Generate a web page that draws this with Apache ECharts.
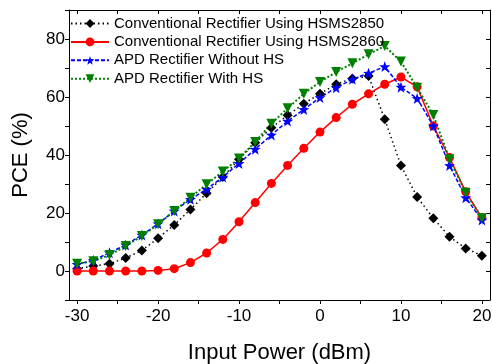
<!DOCTYPE html>
<html>
<head>
<meta charset="utf-8">
<script src="https://cdn.jsdelivr.net/npm/echarts@6/dist/echarts.min.js"></script>
<style>html,body{margin:0;padding:0;background:#fff;}#c{width:492px;height:364px;}</style>
</head>
<body>
<div id="c"></div>
<script>
const inputPower = [-30,-28,-26,-24,-22,-20,-18,-16,-14,-12,-10,-8,-6,-4,-2,0,2,4,6,8,10,12,14,16,18,20];
const hsms2850 = [0.8,1.7,2.5,4.5,7.1,11.3,15.9,21.2,26.8,32.4,38.5,44.2,49.4,53.7,57.7,61.1,64.4,66.4,67.2,52.3,36.4,25.5,18.2,11.8,7.8,5.3];
const hsms2860 = [0,0,0,0,0,0.2,0.8,2.9,6.2,10.9,17.0,23.6,30.2,36.4,42.3,47.9,52.9,57.5,61.1,64.4,66.9,63.5,50.0,39.1,27.3,18.4];
const apdNoHS = [2.3,3.7,6.3,9.0,12.4,16.3,20.7,24.7,28.2,32.4,37.1,42.0,46.9,51.7,55.7,59.8,63.2,66.1,68.2,70.5,63.4,59.5,50.0,36.4,25.3,17.6];
const apdHS = [2.5,3.4,5.5,8.6,12.1,16.1,20.7,25.3,29.9,34.3,38.8,44.5,50.8,56.1,61.1,65.2,68.6,71.6,74.7,77.6,72.2,63.2,53.8,38.5,27.0,18.2];
const seriesNames = ['Conventional Rectifier Using HSMS2850','Conventional Rectifier Using HSMS2860','APD Rectifier Without HS','APD Rectifier With HS'];
const xLabelTicks = [-30,-20,-10,0,10,20];
const xMinorTicks = [-30,-25,-20,-15,-10,-5,0,5,10,15,20];

const FONT = 'Liberation Sans, Arial, sans-serif';
const pair = arr => arr.map((v,i)=>[inputPower[i], v]);
const chart = echarts.init(document.getElementById('c'));
chart.setOption({
  animation:false,
  backgroundColor:'#fff',
  grid:{left:69, right:2, top:10, bottom:64, containLabel:false, outerBoundsMode:'none'},
  legend:{
    orient:'vertical', left:70, top:16, padding:0, itemWidth:38, itemHeight:11, itemGap:3.4,
    textStyle:{fontFamily:FONT, fontSize:15, color:'#000'},
    data:seriesNames
  },
  xAxis:[{
    type:'value', min:-31, max:21, position:'bottom',
    name:'Input Power (dBm)', nameLocation:'middle', nameGap:42,
    nameTextStyle:{fontFamily:FONT, fontSize:22, color:'#000'},
    axisLine:{show:true, onZero:false, lineStyle:{color:'#000', width:1}},
    axisTick:{show:true, inside:false, length:4, customValues:xMinorTicks, lineStyle:{color:'#000'}},
    axisLabel:{customValues:xLabelTicks, fontFamily:FONT, fontSize:17, color:'#000', margin:8},
    splitLine:{show:false}
  },{
    type:'value', min:-31, max:21, position:'top',
    axisLine:{show:true, onZero:false, lineStyle:{color:'#000', width:1}},
    axisTick:{show:true, inside:true, length:4, customValues:xMinorTicks, lineStyle:{color:'#000'}},
    axisLabel:{show:false}, splitLine:{show:false}
  }],
  yAxis:[{
    type:'value', min:-10, max:90, interval:10, position:'left',
    name:'PCE (%)', nameLocation:'middle', nameGap:37,
    nameTextStyle:{fontFamily:FONT, fontSize:22, color:'#000'},
    axisLine:{show:true, onZero:false, lineStyle:{color:'#000', width:1}},
    axisTick:{show:true, inside:false, length:4, lineStyle:{color:'#000'}},
    axisLabel:{fontFamily:FONT, fontSize:17, color:'#000', margin:4,
      formatter:v => (v % 20 === 0 && v >= 0 && v <= 80) ? String(v) : ''},
    splitLine:{show:false}
  },{
    type:'value', min:-10, max:90, interval:10, position:'right',
    axisLine:{show:true, onZero:false, lineStyle:{color:'#000', width:1}},
    axisTick:{show:true, inside:true, length:4, lineStyle:{color:'#000'}},
    axisLabel:{show:false}, splitLine:{show:false}
  }],
  series:[
    {name:seriesNames[0], type:'line', data:pair(hsms2850), symbol:'diamond', symbolSize:10,
     itemStyle:{color:'#000'}, lineStyle:{color:'#000', width:1.5, type:[1.5,3]}},
    {name:seriesNames[1], type:'line', data:pair(hsms2860), symbol:'circle', symbolSize:9,
     itemStyle:{color:'#ff0000'}, lineStyle:{color:'#ff0000', width:1.5, type:'solid'}},
    {name:seriesNames[2], type:'line', data:pair(apdNoHS), symbol:'path://M0,-10 L2.35,-3.24 L9.51,-3.09 L3.8,1.24 L5.88,8.09 L0,4 L-5.88,8.09 L-3.8,1.24 L-9.51,-3.09 L-2.35,-3.24 Z', symbolSize:11,
     itemStyle:{color:'#0000ff'}, lineStyle:{color:'#0000ff', width:1.5, type:[4,2]}},
    {name:seriesNames[3], type:'line', data:pair(apdHS), symbol:'triangle', symbolRotate:180, symbolSize:10,
     itemStyle:{color:'#008000'}, lineStyle:{color:'#008000', width:2, type:[2,2]}}
  ]
});
</script>
</body>
</html>
